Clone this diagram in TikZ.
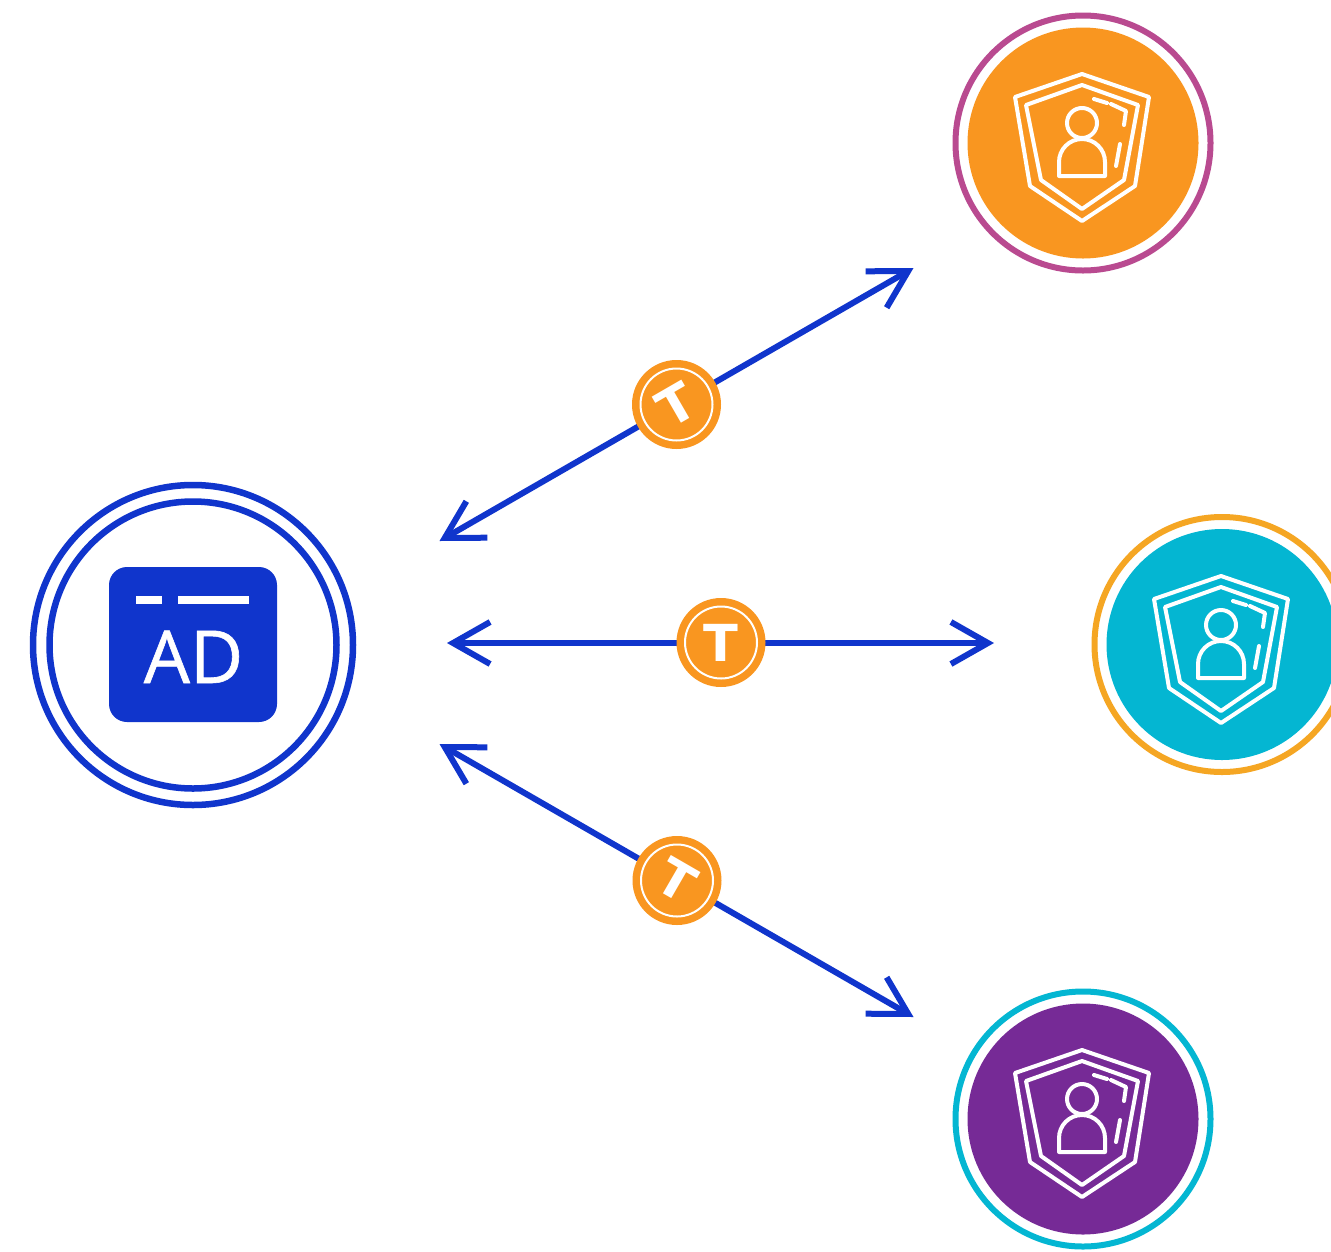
\documentclass[tikz,border=0pt]{standalone}
\usepackage{fontspec}
\usepackage{xcolor}
\usetikzlibrary{arrows.meta}
\setmainfont{Open Sans}
\newfontfamily\adfont[FakeBold=0.8]{Open Sans}
\newfontfamily\badgefont{DejaVu Sans}
\definecolor{adblue}{HTML}{1035CC}
\definecolor{tokenorange}{HTML}{F99620}
\definecolor{ringmagenta}{HTML}{B94A90}
\definecolor{ringorange}{HTML}{F5A623}
\definecolor{clientteal}{HTML}{04B6D2}
\definecolor{clientpurple}{HTML}{762A96}
\tikzset{
  ring/.style={circle,draw=#1,line width=6pt,fill=white,minimum size=255pt,inner sep=0,outer sep=0},
  disc/.style={circle,fill=#1,minimum size=231pt,inner sep=0,outer sep=0},
  adring/.style={circle,draw=adblue,line width=6.5pt,inner sep=0,outer sep=0},
  adbox/.style={rectangle,rounded corners=18pt,fill=adblue,minimum width=168pt,minimum height=155pt,inner sep=0,outer sep=0},
  link/.style={draw=adblue,line width=6pt,{Straight Barb[length=37pt,width=42pt]}-{Straight Barb[length=37pt,width=42pt]}},
  badge/.style={circle,fill=tokenorange,minimum size=89pt,inner sep=0,outer sep=0},
  badgering/.style={circle,draw=white,line width=2pt,minimum size=72pt,inner sep=0,outer sep=0},
  badgeletter/.style={text=white,inner sep=0,font=\badgefont\bfseries\fontsize{51}{51}\selectfont},
  iconline/.style={draw=white,line width=4pt,line join=round,line cap=round},
  shieldicon/.pic={
    \draw[iconline] (0,-69) -- (67,-46) -- (53,43) -- (0,78) -- (-52,43) -- (-67,-46) -- cycle;
    \draw[iconline] (0,-58) -- (56,-38) -- (42,37) -- (0,66) -- (-41,37) -- (-56,-38) -- cycle;
    \draw[iconline] (12,-44) -- (25,-40);
    \draw[iconline] (29,-39) -- (44,-32) -- (42,-18);
    \draw[iconline] (38,1) -- (34,23);
    \draw[iconline] (0,-20) circle[radius=15];
    \draw[iconline] (-23,33) -- (-23,19) arc[start angle=180,end angle=360,radius=23] -- (23,33) -- cycle;
  }
}
\begin{document}
\begin{tikzpicture}[x=1pt,y=-1pt]
\clip (0,0) rectangle (1331,1251);
\fill[white] (0,0) rectangle (1331,1251);
\node[adring,minimum size=320pt] (adouter) at (193,645) {};
\node[adring,minimum size=287pt] (adinner) at (193,645) {};
\node[adbox] (adicon) at (193,644.5) {};
\fill[white] (136,596) rectangle (162,604.3);
\fill[white] (178,596) rectangle (249,604.3);
\node[anchor=base,text=white,inner sep=0,font=\adfont\fontsize{73}{73}\selectfont] (adlabel) at (193.5,683) {AD};
\node[ring=ringmagenta] (topring) at (1083,143) {};
\node[disc=tokenorange] (topdisc) at (1083,143) {};
\pic at (1082,143) {shieldicon};
\node[ring=ringorange] (midring) at (1222,644.5) {};
\node[disc=clientteal] (middisc) at (1222,644.5) {};
\pic at (1221,645) {shieldicon};
\node[ring=clientteal] (lowring) at (1083,1119) {};
\node[disc=clientpurple] (lowdisc) at (1083,1119) {};
\pic at (1082,1119) {shieldicon};
\coordinate (adtop) at (439.5,541);
\coordinate (admid) at (447,643);
\coordinate (adlow) at (439.5,744);
\coordinate (clienttop) at (913.5,268);
\coordinate (clientmid) at (994,643);
\coordinate (clientlow) at (913.5,1017);
\draw[link] (adtop) -- (clienttop);
\draw[link] (admid) -- (clientmid);
\draw[link] (adlow) -- (clientlow);
\node[badge] (topbadge) at (676.5,404.5) {};
\node[badgering] (topbadgering) at (676.5,404.5) {};
\node[badgeletter,rotate=30] (topletter) at (676.5,404.5) {T};
\node[badge] (midbadge) at (721,642.5) {};
\node[badgering] (midbadgering) at (721,642.5) {};
\node[badgeletter] (midletter) at (721,642.5) {T};
\node[badge] (lowbadge) at (677,880.5) {};
\node[badgering] (lowbadgering) at (677,880.5) {};
\node[badgeletter,rotate=-30] (lowletter) at (677,880.5) {T};
\end{tikzpicture}
\end{document}
